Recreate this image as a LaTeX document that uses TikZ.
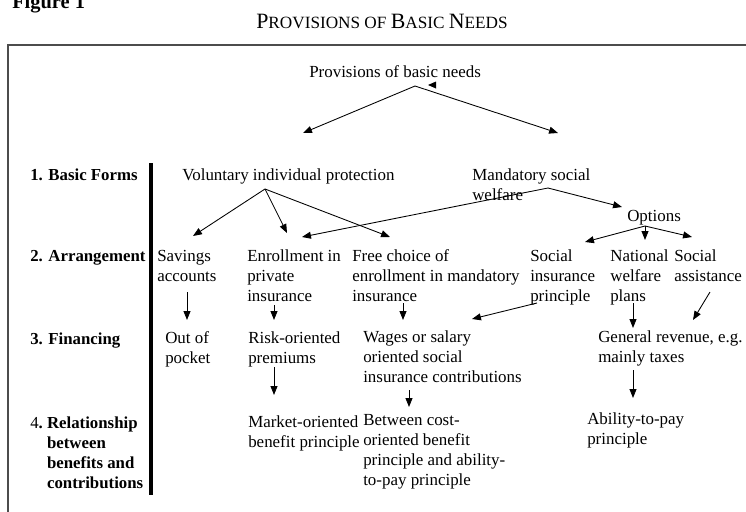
\documentclass[tikz,border=0pt]{standalone}
\usepackage{fontspec}
\setmainfont{Liberation Serif}
\usetikzlibrary{arrows.meta}
\newcommand\TitleBig[1]{{\fontsize{16.4}{18}\selectfont #1}}
\newcommand\TitleSmall[1]{{\fontsize{12.9}{15}\selectfont #1}}
\newcommand\Lines[1]{\begin{tabular}[t]{@{}l@{}}#1\end{tabular}}
\begin{document}
\begin{tikzpicture}[x=0.75pt,y=-0.75pt,
  txt/.style={anchor=base west, inner sep=0pt, font=\fontsize{12.7}{15}\selectfont},
  lbl/.style={txt, font=\fontsize{12.6}{15}\selectfont\bfseries},
  arr/.style={-{Triangle[length=6.7pt,width=5.2pt]}, line width=0.65pt}]
\useasboundingbox (0,0) rectangle (746,511);
% frame and bar
\draw[line width=1.1pt, draw=black!70] (8,45) rectangle (770,540);
\draw[line width=2.3pt] (151,163) -- (151,495);
% headings
\node[anchor=base west, inner sep=0pt, font=\fontsize{15.3}{18}\selectfont\bfseries] (fig) at (12,8) {Figure 1};
\node[anchor=base, inner sep=0pt] (title) at (382,28) {\TitleBig{P}\TitleSmall{ROVISIONS OF }\TitleBig{B}\TitleSmall{ASIC }\TitleBig{N}\TitleSmall{EEDS}};
% row labels
\node[lbl] (l1) at (30,180) {1. Basic Forms};
\node[lbl] (l2) at (30,261) {2. Arrangement};
\node[lbl] (l3) at (30,344) {3. Financing};
\node[lbl] (l4) at (30,428) {{\mdseries 4}.~\Lines{Relationship\\between\\benefits and\\contributions}};
% nodes
\node[txt] (root) at (309,77) {Provisions of basic needs};
\node[txt] (vol) at (182,180) {Voluntary individual protection};
\node[txt] (man) at (472,180) {\Lines{Mandatory social\\welfare}};
\node[txt] (opt) at (627,221) {Options};
\node[txt] (sav) at (157,261) {\Lines{Savings\\accounts}};
\node[txt] (enr) at (247,261) {\Lines{Enrollment in\\private\\insurance}};
\node[txt] (fre) at (352,261) {\Lines{Free choice of\\enrollment in mandatory\\insurance}};
\node[txt] (sip) at (530,261) {\Lines{Social\\insurance\\principle}};
\node[txt] (nwp) at (610,261) {\Lines{National\\welfare\\plans}};
\node[txt] (sas) at (674,261) {\Lines{Social\\assistance}};
\node[txt] (oop) at (165,343) {\Lines{Out of\\pocket}};
\node[txt] (rop) at (248,343) {\Lines{Risk-oriented\\premiums}};
\node[txt] (wag) at (363,342) {\Lines{Wages or salary\\oriented social\\insurance contributions}};
\node[txt] (gen) at (598,342) {\Lines{General revenue, e.g.\\mainly taxes}};
\node[txt] (mob) at (248,427) {\Lines{Market-oriented\\benefit principle}};
\node[txt] (bet) at (363,425) {\Lines{Between cost-\\oriented benefit\\principle and ability-\\to-pay principle}};
\node[txt] (atp) at (587,424) {\Lines{Ability-to-pay\\principle}};
% junctions and arrow ends
\coordinate (rootj) at (415,86);
\coordinate (volt) at (303,133);
\coordinate (mant) at (558,133);
\coordinate (stray) at (428,85);
\coordinate (volj) at (265,189);
\coordinate (savt) at (193,236);
\coordinate (enrt) at (287,233);
\coordinate (fret) at (390,237);
\coordinate (manj) at (548,188);
\coordinate (enrt2) at (302,237);
\coordinate (optt) at (622,207);
\coordinate (optj) at (645,226);
\coordinate (sipt) at (585,242);
\coordinate (nwpt) at (645,240);
\coordinate (sast) at (692,237);
\coordinate (savs) at (187,292); \coordinate (oopt) at (187,320);
\coordinate (enrs) at (274,305); \coordinate (ropt) at (274,320);
\coordinate (fres) at (403,303); \coordinate (wagt) at (403,320);
\coordinate (sips) at (537,303); \coordinate (wagt2) at (472,319);
\coordinate (nwps) at (633,303); \coordinate (gent) at (633,328);
\coordinate (sass) at (710,292); \coordinate (gent2) at (693,320);
\coordinate (rops) at (274,367); \coordinate (mobt) at (274,395);
\coordinate (wags) at (409,390); \coordinate (bett) at (409,407);
\coordinate (gens) at (633,370); \coordinate (atpt) at (633,398);
% connectors
\draw[arr] (rootj) -- (volt);
\draw[arr] (rootj) -- (mant);
\fill (stray) -- ++(8,-3.5) -- ++(0,7) -- cycle;
\draw[arr] (volj) -- (savt);
\draw[arr] (volj) -- (enrt);
\draw[arr] (volj) -- (fret);
\draw[arr] (manj) -- (enrt2);
\draw[arr] (manj) -- (optt);
\draw[arr] (optj) -- (sipt);
\draw[arr] (optj) -- (nwpt);
\draw[arr] (optj) -- (sast);
\draw[arr] (savs) -- (oopt);
\draw[arr] (enrs) -- (ropt);
\draw[arr] (fres) -- (wagt);
\draw[arr] (sips) -- (wagt2);
\draw[arr] (nwps) -- (gent);
\draw[arr] (sass) -- (gent2);
\draw[arr] (rops) -- (mobt);
\draw[arr] (wags) -- (bett);
\draw[arr] (gens) -- (atpt);
\end{tikzpicture}
\end{document}
